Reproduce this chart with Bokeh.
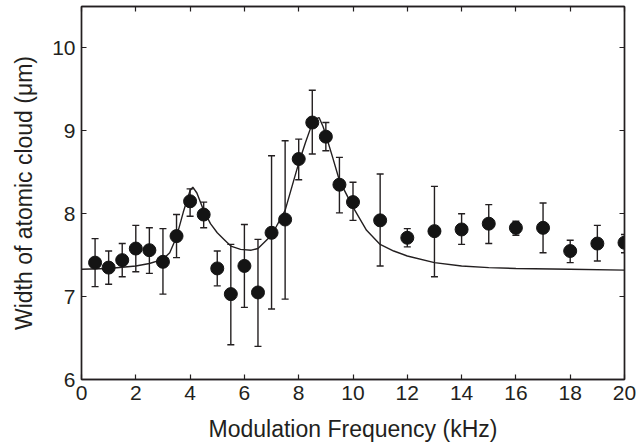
from bokeh.plotting import figure
from bokeh.models import ColumnDataSource, Whisker, TeeHead, LinearAxis, FixedTicker, Range1d
from bokeh.embed import file_html
from bokeh.resources import INLINE

# Measured data (modulation frequency in kHz, cloud width in micrometres)
freq = [0.5, 1, 1.5, 2, 2.5, 3, 3.5, 4, 4.5, 5, 5.5, 6, 6.5, 7, 7.5, 8, 8.5, 9, 9.5, 10,
        11, 12, 13, 14, 15, 16, 17, 18, 19, 20]
width = [7.41, 7.35, 7.44, 7.58, 7.56, 7.42, 7.73, 8.15, 7.99, 7.34, 7.03, 7.37, 7.05, 7.77, 7.93,
         8.66, 9.10, 8.93, 8.35, 8.14, 7.92, 7.71, 7.79, 7.81, 7.88, 7.83, 7.83, 7.55, 7.64, 7.65]
err_low = [7.12, 7.15, 7.24, 7.30, 7.28, 7.03, 7.47, 7.97, 7.83, 7.13, 6.42, 6.87, 6.40, 6.85, 6.97,
           8.41, 8.72, 8.76, 8.01, 7.92, 7.37, 7.60, 7.24, 7.63, 7.64, 7.74, 7.53, 7.41, 7.43, 7.53]
err_high = [7.70, 7.55, 7.64, 7.86, 7.83, 7.82, 7.99, 8.30, 8.14, 7.55, 7.63, 7.87, 7.69, 8.70, 8.88,
            8.90, 9.49, 9.10, 8.68, 8.38, 8.48, 7.82, 8.33, 8.00, 8.11, 7.91, 8.13, 7.68, 7.86, 7.75]

# Fitted curve
fit_freq = [0, 1, 2, 2.5, 3, 3.25, 3.5, 3.75, 4.0, 4.1, 4.25, 4.5, 4.75, 5.0, 5.25, 5.5, 5.86,
            6.25, 6.5, 7.0, 7.5, 8.0, 8.25, 8.5, 8.6, 8.75, 8.9, 9.0, 9.25, 9.5, 10.0, 10.5,
            11, 11.5, 12, 13, 14, 15, 16, 18, 20]
fit_width = [7.33, 7.34, 7.37, 7.40, 7.45, 7.53, 7.72, 8.02, 8.28, 8.32, 8.25, 8.04, 7.88, 7.77,
             7.69, 7.61, 7.57, 7.56, 7.58, 7.74, 8.04, 8.61, 8.86, 9.09, 9.14, 9.16, 9.05, 8.95,
             8.68, 8.40, 8.08, 7.80, 7.63, 7.55, 7.49, 7.41, 7.37, 7.35, 7.34, 7.33, 7.32]

x_ticks = [0, 2, 4, 6, 8, 10, 12, 14, 16, 18, 20]
y_ticks = [6, 7, 8, 9, 10]

FONT = "Liberation Sans"
INK = "#231f20"

src = ColumnDataSource(dict(x=freq, y=width, lo=err_low, hi=err_high))
fit = ColumnDataSource(dict(x=fit_freq, y=fit_width))

p = figure(width=636, height=445, output_backend="svg", toolbar_location=None,
           x_range=Range1d(0, 20), y_range=Range1d(6, 10.5),
           min_border_left=81, min_border_right=12, min_border_top=6, min_border_bottom=66)
p.grid.visible = False
p.outline_line_color = INK
p.outline_line_width = 1.4
p.background_fill_color = "white"
p.border_fill_color = "white"

p.line("x", "y", source=fit, line_color=INK, line_width=1.4)
p.add_layout(Whisker(source=src, base="x", lower="lo", upper="hi", line_color=INK, line_width=1.4,
                     upper_head=TeeHead(size=7, line_color=INK, line_width=1.4),
                     lower_head=TeeHead(size=7, line_color=INK, line_width=1.4)))
p.scatter("x", "y", source=src, size=13, fill_color="#141414", line_color="#141414")

for ax, ticks in ((p.xaxis[0], x_ticks), (p.yaxis[0], y_ticks)):
    ax.ticker = FixedTicker(ticks=ticks)
    ax.minor_tick_line_color = None
    ax.major_tick_in = 5
    ax.major_tick_out = 0
    ax.axis_line_color = INK
    ax.axis_line_width = 1.4
    ax.major_tick_line_color = INK
    ax.major_tick_line_width = 1.2
    ax.major_label_text_font = FONT
    ax.major_label_text_font_size = "21px"
    ax.major_label_text_color = INK
    ax.axis_label_text_font = FONT
    ax.axis_label_text_font_size = "23px"
    ax.axis_label_text_font_style = "normal"
    ax.axis_label_text_color = INK
    ax.major_label_standoff = 6

p.xaxis[0].axis_label = "Modulation Frequency (kHz)"
p.yaxis[0].axis_label = "Width of atomic cloud (\u03bcm)"
p.xaxis[0].axis_label_standoff = 13
p.yaxis[0].axis_label_standoff = 12

# Inward ticks on the top and right edges of the frame (no labels)
for loc, ticks in (("above", x_ticks), ("right", y_ticks)):
    ax = LinearAxis(ticker=FixedTicker(ticks=ticks))
    ax.minor_tick_line_color = None
    ax.major_tick_in = 5
    ax.major_tick_out = 0
    ax.axis_line_color = INK
    ax.axis_line_width = 1.4
    ax.major_tick_line_color = INK
    ax.major_tick_line_width = 1.2
    ax.major_label_text_font_size = "1px"
    ax.major_label_text_color = None
    ax.major_label_standoff = 0
    p.add_layout(ax, loc)

open("out.html", "w").write(file_html(p, INLINE))
